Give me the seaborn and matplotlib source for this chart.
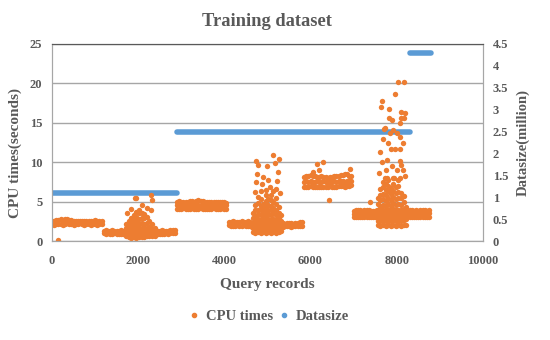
import numpy as np
import pandas as pd
import seaborn as sns
import matplotlib.pyplot as plt
from matplotlib.lines import Line2D

sns.set_style("white")
plt.rcParams['font.family'] = ['Liberation Serif', 'DejaVu Serif']
plt.rcParams['font.weight'] = 'bold'

ORANGE = '#ED7D31'
BLUE = '#5B9BD5'
TEXT = '#595959'

# ---- data ----
# dense bands: record range start, sample step 50, rows of CPU times (seconds)
band1_start = 0
band1_rows = [
    [2.15, 2.1, 2.2, 2.15, 2.2, 2.1, 2.2, 2.25, 2.15, 2.2, 2.1, 2.15, 2.2, 2.25, 2.15, 2.1, 2.15, 2.2, 2.1, 2.15, 2.2, 2.1, 2.15, 2.2],
    [2.55, 2.6, 2.7, 2.65, 2.75, 2.7, 2.8, 2.75, 2.7, 2.65, 2.6, 2.55, 2.6, 2.55, 2.5, 2.55, 2.6, 2.5, 2.55, 2.6, 2.65, 2.6, 2.55, 2.6],
]
band2_start = 1200
band2_rows = [
    [1.0, 0.95, 1.0, 0.9, 0.95, 1.0, 0.9, 0.95, 0.85, 0.9, 0.95, 0.9, 0.85, 0.8, 0.85, 0.9, 0.85, 0.8, 0.85, 0.9, 0.85, 0.9, 0.95, 0.9, 0.85, 0.9, 0.95, 0.9, 0.95, 1.0, 0.95, 1.0, 1.05, 1.0],
    [1.3, 1.35, 1.25, 1.3, 1.35, 1.3, 1.25, 1.3, 1.35, 1.3, 1.25, 1.3, 1.35, 1.4, 1.3, 1.35, 1.4, 1.35, 1.3, 1.35, 1.3, 1.25, 1.3, 1.35, 1.3, 1.25, 1.3, 1.35, 1.3, 1.25, 1.3, 1.35, 1.4, 1.45],
]
band3_start = 2900
band3_rows = [
    [4.1, 4.05, 4.1, 4.15, 4.1, 4.05, 4.1, 4.15, 4.1, 4.05, 4.1, 4.15, 4.1, 4.05, 4.1, 4.05, 4.1, 4.15, 4.1, 4.05, 4.1, 4.15, 4.1, 4.05],
    [4.55, 4.6, 4.5, 4.55, 4.6, 4.55, 4.5, 4.6, 4.55, 4.6, 4.55, 4.5, 4.6, 4.55, 4.5, 4.55, 4.6, 4.55, 4.5, 4.55, 4.6, 4.55, 4.5, 4.55],
    [5.0, 5.05, 4.95, 5.0, 4.9, 5.0, 5.05, 5.1, 5.0, 5.05, 5.15, 5.1, 5.05, 5.0, 4.95, 5.0, 4.9, 5.0, 4.95, 4.9, 5.0, 4.95, 4.9, 4.85],
]
band4_start = 4100
band4_rows = [
    [2.0, 1.95, 1.9, 1.95, 2.0, 1.9, 1.95, 2.0, 1.95, 1.9, 1.85, 1.8, 1.85, 1.9, 1.85, 1.8, 1.85, 1.9, 1.85, 1.8, 1.85, 1.8, 1.75, 1.8, 1.85, 1.8, 1.85, 1.9, 1.85, 1.8, 1.85, 1.9, 1.85, 1.9, 1.95],
    [2.4, 2.45, 2.5, 2.45, 2.4, 2.45, 2.5, 2.4, 2.45, 2.5, 2.4, 2.35, 2.3, 2.35, 2.4, 2.3, 2.35, 2.3, 2.25, 2.3, 2.35, 2.3, 2.25, 2.3, 2.2, 2.25, 2.2, 2.25, 2.3, 2.25, 2.2, 2.3, 2.35, 2.4, 2.45],
]
band5_start = 5850
band5_rows = [
    [6.9, 6.85, 6.9, 6.95, 6.9, 6.85, 6.9, 6.8, 6.85, 6.9, 6.85, 6.9, 6.95, 6.9, 6.85, 6.9, 6.95, 7.0, 6.95, 6.9, 6.95, 7.0, 7.05],
    [7.5, 7.6, 7.55, 7.6, 7.5, 7.55, 7.6, 7.5, 7.55, 7.6, 7.55, 7.5, 7.6, 7.55, 7.6, 7.55, 7.6, 7.65, 7.6, 7.55, 7.6, 7.65, 7.6],
    [8.1, 8.2, 8.3, 8.4, 8.3, 8.2, 8.15, 8.1, 8.2, 8.15, 8.1, 8.05, 8.1, 8.15, 8.2, 8.25, 8.3, 8.35, 8.4, 8.5, 8.45, 8.3, 8.2],
]
band6_start = 7000
band6_rows = [
    [3.05, 3.0, 3.05, 3.1, 3.0, 3.05, 3.0, 3.1, 3.05, 3.0, 3.05, 3.1, 3.0, 3.05, 3.1, 3.05, 3.0, 3.05, 3.1, 3.05, 3.0, 3.05, 3.1, 3.05, 3.0, 3.05, 3.1, 3.05, 3.0, 3.05, 3.1, 3.05, 3.0, 3.05, 3.1, 3.05],
    [3.45, 3.5, 3.45, 3.4, 3.5, 3.45, 3.5, 3.45, 3.4, 3.45, 3.5, 3.45, 3.4, 3.45, 3.5, 3.45, 3.4, 3.45, 3.5, 3.45, 3.4, 3.45, 3.5, 3.45, 3.4, 3.45, 3.5, 3.45, 3.4, 3.45, 3.5, 3.45, 3.4, 3.45, 3.5, 3.55],
    [3.85, 3.9, 3.95, 3.9, 3.85, 3.9, 3.95, 3.9, 3.85, 3.8, 3.85, 3.9, 3.95, 3.9, 3.85, 3.9, 3.95, 3.9, 3.85, 3.9, 3.85, 3.8, 3.85, 3.9, 3.85, 3.9, 3.95, 3.9, 3.85, 3.9, 3.85, 3.9, 3.95, 3.9, 3.85, 3.9],
]

# spikes and stray points: (record, CPU time)
spike_x = [
    150,
    # around record 2000
    1720, 1720, 1720, 1780, 1780, 1780, 1780, 1840, 1840, 1840, 1840, 1840,
    1900, 1900, 1900, 1900, 1900, 1900, 1960, 1960, 1960, 1960, 1960, 1960,
    2020, 2020, 2020, 2020, 2020, 2020, 2080, 2080, 2080, 2080, 2080, 2080,
    2140, 2140, 2140, 2140, 2140, 2200, 2200, 2200, 2200, 2200,
    2260, 2260, 2260, 2260, 2320, 2320, 2320, 2380, 2380,
    1730, 1830, 1930, 1960, 1960, 2080, 2300, 2330, 2300, 2200, 2020, 2140,
    # around record 5000
    4660, 4660, 4660, 4660, 4660,
    4720, 4720, 4720, 4720, 4720, 4720, 4720,
    4780, 4780, 4780, 4780, 4780, 4780, 4780, 4780,
    4840, 4840, 4840, 4840, 4840, 4840, 4840, 4840,
    4900, 4900, 4900, 4900, 4900, 4900, 4900,
    4960, 4960, 4960, 4960, 4960, 4960, 4960, 4960, 4960,
    5020, 5020, 5020, 5020, 5020, 5020, 5020, 5020,
    5080, 5080, 5080, 5080, 5080, 5080, 5080, 5080, 5080,
    5140, 5140, 5140, 5140, 5140, 5140, 5140,
    5200, 5200, 5200, 5200, 5200, 5200, 5200, 5200,
    5260, 5260, 5260, 5260, 5260, 5260,
    5320, 5320, 5320, 5320,
    5135, 5275, 4735, 4980, 5175, 4790, 4765, 5250, 4905, 5020, 5230, 4735,
    5060, 5200, 4865, 4965, 4700, 5300, 4850, 5120,
    # around record 6400
    6150, 6290, 6910, 6430, 6200, 6050,
    # around record 7900
    7560, 7560, 7560, 7560, 7560, 7560,
    7620, 7620, 7620, 7620, 7620, 7620, 7620, 7620,
    7680, 7680, 7680, 7680, 7680, 7680, 7680, 7680, 7680,
    7740, 7740, 7740, 7740, 7740, 7740, 7740, 7740, 7740,
    7800, 7800, 7800, 7800, 7800, 7800, 7800, 7800, 7800,
    7860, 7860, 7860, 7860, 7860, 7860, 7860, 7860,
    7920, 7920, 7920, 7920, 7920, 7920, 7920, 7920, 7920,
    7980, 7980, 7980, 7980, 7980, 7980, 7980, 7980,
    8040, 8040, 8040, 8040, 8040, 8040, 8040, 8040, 8040,
    8100, 8100, 8100, 8100, 8100, 8100, 8100,
    8160, 8160, 8160, 8160, 8160, 8160,
    8220, 8220, 8220, 8220,
    8020, 8170, 7960, 7670, 7630, 7820, 8110, 8170, 7880, 8070, 7700, 7910,
    7690, 7805, 7610, 7860, 7960, 8075, 7780, 8075, 8110, 7760, 8000, 8150,
    7720, 7780, 7930, 8075, 8000, 8075, 8190, 8095, 7825, 7725, 7840, 7380,
    7600, 8200, 8150, 7650, 7900,
]
spike_y = [
    0.1,
    0.6, 1.6, 2.2, 0.5, 1.1, 1.9, 2.6, 0.45, 1.0, 1.6, 2.3, 2.9,
    0.5, 1.0, 1.5, 2.1, 2.7, 3.3, 0.45, 0.95, 1.5, 2.0, 2.6, 3.1,
    0.5, 1.05, 1.6, 2.2, 2.8, 3.5, 0.55, 1.1, 1.7, 2.3, 2.9, 3.6,
    0.5, 1.0, 1.6, 2.2, 2.9, 0.6, 1.1, 1.7, 2.3, 3.0,
    0.6, 1.2, 1.8, 2.5, 0.65, 1.5, 2.2, 0.7, 1.6,
    3.5, 4.1, 5.4, 5.4, 3.7, 4.6, 5.8, 5.2, 3.9, 4.2, 4.0, 3.4,
    1.2, 1.7, 2.3, 2.9, 3.6,
    1.0, 1.5, 2.0, 2.6, 3.2, 3.9, 4.6,
    1.1, 1.6, 2.2, 2.8, 3.4, 4.0, 4.8, 5.6,
    1.0, 1.5, 2.1, 2.7, 3.3, 3.9, 4.5, 5.3,
    1.1, 1.6, 2.2, 2.8, 3.4, 4.1, 4.7,
    1.0, 1.5, 2.0, 2.6, 3.2, 3.8, 4.4, 5.1, 5.8,
    1.1, 1.6, 2.2, 2.8, 3.4, 4.0, 4.6, 5.3,
    1.0, 1.5, 2.1, 2.7, 3.3, 3.9, 4.5, 5.2, 5.9,
    1.1, 1.6, 2.2, 2.8, 3.5, 4.2, 4.9,
    1.0, 1.5, 2.1, 2.7, 3.3, 4.0, 4.7, 5.5,
    1.1, 1.7, 2.3, 2.9, 3.6, 4.3,
    1.3, 1.9, 2.6, 3.3,
    10.9, 10.4, 10.2, 9.5, 9.9, 9.6, 8.5, 8.7, 8.1, 7.8, 7.65, 7.5,
    6.9, 6.6, 7.3, 6.5, 6.2, 6.1, 6.3, 6.4,
    9.8, 10.0, 9.2, 5.2, 9.0, 8.8,
    2.0, 2.6, 3.3, 4.0, 4.7, 5.4,
    1.9, 2.5, 3.1, 3.8, 4.5, 5.2, 5.9, 6.6,
    2.0, 2.6, 3.2, 3.9, 4.6, 5.3, 6.0, 6.8, 7.5,
    1.9, 2.5, 3.1, 3.7, 4.4, 5.1, 5.8, 6.5, 7.3,
    2.0, 2.6, 3.3, 4.0, 4.7, 5.5, 6.3, 7.0, 7.8,
    1.9, 2.5, 3.1, 3.8, 4.5, 5.2, 6.0, 6.7,
    2.0, 2.7, 3.4, 4.1, 4.8, 5.6, 6.4, 7.2, 8.0,
    1.9, 2.5, 3.2, 3.9, 4.6, 5.3, 6.1, 6.9,
    2.0, 2.6, 3.3, 4.0, 4.7, 5.4, 6.2, 7.0, 7.7,
    1.9, 2.6, 3.2, 3.9, 4.6, 5.4, 6.1,
    2.0, 2.7, 3.4, 4.1, 4.9, 5.7,
    2.1, 2.8, 3.5, 4.3,
    20.2, 20.2, 18.7, 17.8, 17.0, 16.8, 16.4, 15.6, 15.4, 15.0, 14.2, 14.1,
    12.9, 12.4, 11.3, 11.7, 11.7, 11.7, 10.3, 10.1, 9.6, 9.0, 9.0, 9.0,
    8.0, 8.0, 8.0, 8.0, 13.7, 13.2, 16.3, 15.6, 15.6, 14.3, 13.7, 5.0,
    8.6, 8.3, 12.5, 10.0, 9.5,
]

# Datasize (million) per record range
ds_start = [0, 2900, 8300]
ds_end = [2900, 8300, 8800]
ds_value = [1.1, 2.5, 4.3]

# ---- assemble tables ----
frames = []
for start, rows in [(band1_start, band1_rows), (band2_start, band2_rows), (band3_start, band3_rows),
                    (band4_start, band4_rows), (band5_start, band5_rows), (band6_start, band6_rows)]:
    for row in rows:
        rec = start + 50 * np.arange(len(row))
        frames.append(pd.DataFrame({'record': rec, 'cpu': row}))
frames.append(pd.DataFrame({'record': spike_x, 'cpu': spike_y}))
cpu_df = pd.concat(frames, ignore_index=True)

# each datasize run: one record per point at both ends of the run
ds_df = pd.DataFrame({
    'record': [r for a, b in zip(ds_start, ds_end) for r in (a, b)],
    'datasize': [v for v in ds_value for _ in range(2)],
    'run': [i for i in range(len(ds_value)) for _ in range(2)],
})

# ---- plot ----
fig, ax = plt.subplots(figsize=(5.5, 3.4), dpi=100)
fig.subplots_adjust(left=0.0945, right=0.878, bottom=0.291, top=0.8706)
ax2 = ax.twinx()

sns.lineplot(data=ds_df, x='record', y='datasize', units='run', estimator=None, ax=ax2,
             color=BLUE, lw=4, solid_capstyle='round', legend=False)
sns.scatterplot(data=cpu_df, x='record', y='cpu', ax=ax, color=ORANGE, s=15, linewidth=0, legend=False)
ax.set_zorder(ax2.get_zorder() + 1)
ax.patch.set_visible(False)

ax.set_xlim(0, 10000)
ax.set_ylim(0, 25)
ax2.set_ylim(0, 4.5)
ax.set_xticks(range(0, 10001, 2000))
ax.set_yticks(range(0, 26, 5))
r_ticks = np.arange(0, 4.51, 0.5)
ax2.set_yticks(r_ticks)
ax2.set_yticklabels([f"{t:g}" for t in r_ticks])

ax.grid(axis='y', color='#A6A6A6', lw=1)
ax.grid(axis='x', visible=False)
for a in (ax, ax2):
    for side in ('left', 'right', 'bottom'):
        a.spines[side].set_color('#A6A6A6')
    a.spines['top'].set_color('#595959')
    a.tick_params(length=0, labelsize=9, colors=TEXT)
ax.tick_params(axis='x', pad=10)
ax.tick_params(axis='y', pad=7)
ax2.tick_params(axis='y', pad=7)

ax.set_xlabel('Query records', fontsize=11, color=TEXT, labelpad=8, fontweight='bold')
ax.set_ylabel('CPU times(seconds)', fontsize=11, color=TEXT, fontweight='bold')
ax.yaxis.set_label_coords(-0.07, 0.445)
ax2.set_ylabel('Datasize(million)', fontsize=10.5, color=TEXT, labelpad=6, fontweight='bold')
ax.set_title('Training dataset', fontsize=13.3, color=TEXT, pad=13, fontweight='bold')

handles = [Line2D([], [], marker='o', ls='', color=ORANGE, markersize=3),
           Line2D([], [], marker='o', ls='', color=BLUE, markersize=3)]
fig.legend(handles, ['CPU times', 'Datasize'], loc='center', bbox_to_anchor=(0.49, 0.068),
           ncol=2, frameon=False, handlelength=0.6, handletextpad=0.5, columnspacing=0.5,
           prop={'family': 'Liberation Serif', 'weight': 'bold', 'size': 10.5}, labelcolor=TEXT)

plt.savefig('out.png', dpi=100)
plt.close()
